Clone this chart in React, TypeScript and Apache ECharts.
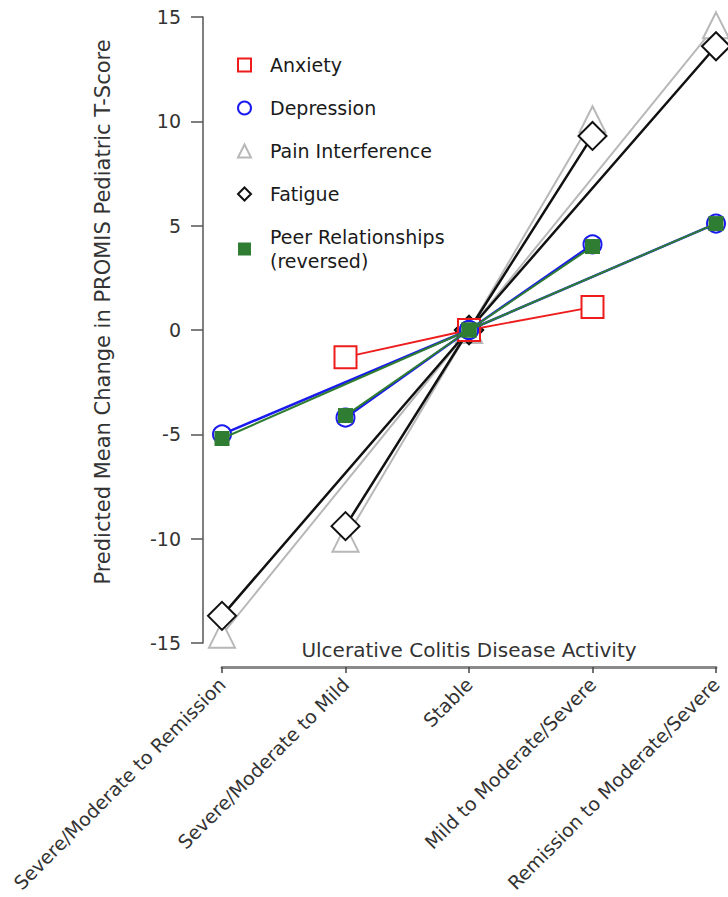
import React, { useEffect, useRef } from "react";
import * as echarts from "echarts";

const categories = [
  "Severe/Moderate to Remission",
  "Severe/Moderate to Mild",
  "Stable",
  "Mild to Moderate/Severe",
  "Remission to Moderate/Severe",
];

const anxiety = [null, -1.3, 0, 1.1, null];
const depression = [-5.0, -4.2, 0, 4.1, 5.1];
const painInterference = [-14.6, -10.0, 0, 10.1, 14.6];
const fatigue = [-13.7, -9.4, 0, 9.3, 13.6];
const peerRelationships = [-5.2, -4.1, 0, 4.0, 5.1];

const yTicks = { min: -15, max: 15, interval: 5 };

const FONT = "DejaVu Sans";

// outer pair connects first and last categories through "Stable"; inner pair connects 2nd and 4th
const outerOf = (v: (number | null)[]) => v.map((d, i) => (i === 1 || i === 3 ? null : d));
const innerOf = (v: (number | null)[]) => v.map((d, i) => (i === 0 || i === 4 ? null : d));

type Spec = {
  name: string;
  values: (number | null)[];
  color: string;
  symbol: string;
  size: number;
  lineWidth: number;
  borderWidth: number;
};

const specs: Spec[] = [
  { name: "Pain Interference", values: painInterference, color: "#b8b8b8", symbol: "emptyTriangle", size: 26, lineWidth: 2, borderWidth: 2 },
  { name: "Fatigue", values: fatigue, color: "#111111", symbol: "emptyDiamond", size: 28, lineWidth: 2.5, borderWidth: 2.5 },
  { name: "Anxiety", values: anxiety, color: "#ee1c1c", symbol: "emptyRect", size: 22, lineWidth: 1.8, borderWidth: 3 },
  { name: "Depression", values: depression, color: "#1a1aee", symbol: "emptyCircle", size: 18, lineWidth: 2.5, borderWidth: 2.5 },
  { name: "Peer Relationships\n(reversed)", values: peerRelationships, color: "#2e7d32", symbol: "rect", size: 15, lineWidth: 2, borderWidth: 0 },
];

const legendIcons: Record<string, string> = {
  Anxiety: "emptyRect",
  Depression: "emptyCircle",
  "Pain Interference": "emptyTriangle",
  Fatigue: "emptyDiamond",
  "Peer Relationships\n(reversed)": "rect",
};

export default function App() {
  const ref = useRef<HTMLDivElement>(null);

  useEffect(() => {
    if (!ref.current) return;
    const chart = echarts.init(ref.current, undefined, { renderer: "svg" });

    const series: any[] = [];
    specs.forEach((s, idx) => {
      [outerOf(s.values), innerOf(s.values)].forEach((data) => {
        series.push({
          type: "line",
          name: s.name,
          data,
          connectNulls: true,
          clip: false,
          z: 2 + idx,
          symbol: s.symbol,
          symbolSize: s.size,
          showSymbol: true,
          lineStyle: { color: s.color, width: s.lineWidth },
          itemStyle: { color: s.color, borderColor: s.color, borderWidth: s.borderWidth },
          emphasis: { disabled: true },
        });
      });
    });

    const legendOrder = ["Anxiety", "Depression", "Pain Interference", "Fatigue", "Peer Relationships\n(reversed)"];
    const colorOf = (n: string) => specs.find((s) => s.name === n)!.color;

    chart.setOption({
      animation: false,
      backgroundColor: "#ffffff",
      textStyle: { fontFamily: FONT },
      grid: { left: 222, width: 494, top: 17, height: 626, containLabel: false },
      legend: {
        orient: "vertical",
        left: 232,
        top: 48,
        itemWidth: 13,
        itemHeight: 13,
        itemGap: 19,
        textStyle: { fontFamily: FONT, fontSize: 19, color: "#1a1a1a", lineHeight: 24, padding: [0, 0, 0, 14] },
        data: legendOrder.map((n) => ({
          name: n,
          icon: legendIcons[n],
          itemStyle: { color: colorOf(n), borderColor: colorOf(n) },
        })),
      },
      xAxis: {
        type: "category",
        data: categories,
        boundaryGap: false,
        offset: 24,
        name: "Ulcerative Colitis Disease Activity",
        nameLocation: "middle",
        nameGap: -27,
        nameTextStyle: { fontFamily: FONT, fontSize: 20, color: "#333" },
        axisLine: { onZero: false, lineStyle: { color: "#8a8a8a", width: 3 } },
        axisTick: { show: true, length: 6, alignWithLabel: true, lineStyle: { color: "#444", width: 1.5 } },
        axisLabel: { interval: 0, rotate: 45, margin: 14, fontFamily: FONT, fontSize: 19, color: "#333" },
        splitLine: { show: false },
      },
      yAxis: {
        type: "value",
        min: yTicks.min,
        max: yTicks.max,
        interval: yTicks.interval,
        offset: 19,
        name: "Predicted Mean Change in PROMIS Pediatric T-Score",
        nameLocation: "middle",
        nameRotate: 90,
        nameGap: 90,
        nameTextStyle: { fontFamily: FONT, fontSize: 21, color: "#333", padding: [0, 0, 0, 36] },
        axisLine: { show: true, onZero: false, lineStyle: { color: "#555", width: 1.5 } },
        axisTick: { show: true, length: 12, lineStyle: { color: "#555", width: 1.5 } },
        axisLabel: { margin: 22, fontFamily: FONT, fontSize: 19, color: "#333" },
        splitLine: { show: false },
      },
      series,
    });

    return () => chart.dispose();
  }, []);

  return (
    <div
      ref={ref}
      style={{ position: "fixed", left: 0, top: 0, width: 728, height: 897, background: "#fff" }}
    />
  );
}
